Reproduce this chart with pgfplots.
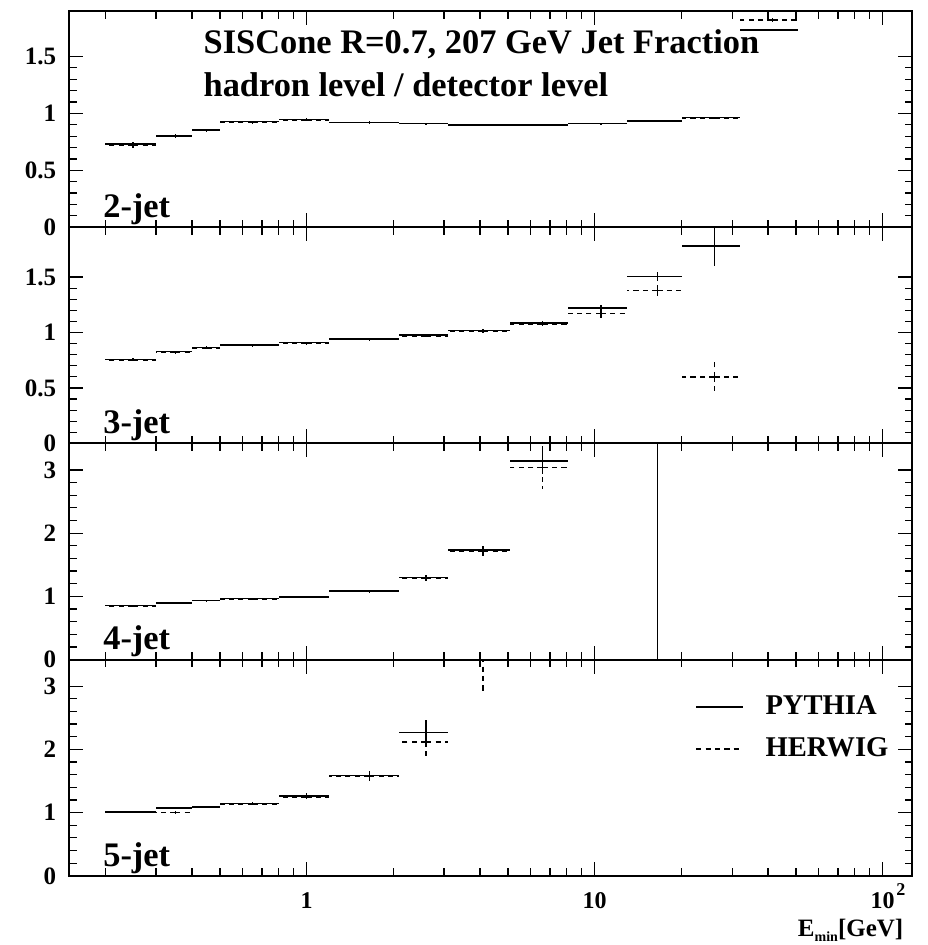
\documentclass[border=0pt]{standalone}
\usepackage{pgfplots}
\pgfplotsset{compat=1.18}
\usepackage{pgfplotstable}
\usepackage{fontspec}
\setmainfont{Liberation Serif}

\pgfplotstableread{
lo hi y ey
0.2 0.3 0.730 0.015
0.3 0.4 0.803 0.012
0.4 0.5 0.855 0.012
0.5 0.8 0.927 0.010
0.8 1.2 0.948 0.010
1.2 2.1 0.921 0.008
2.1 3.1 0.912 0.008
3.1 5.1 0.898 0.006
5.1 8.1 0.898 0.006
8.1 12.9 0.912 0.006
12.9 20.1 0.933 0.006
20.1 32 0.962 0.008
32 51 1.734 0.012
}\twoP
\pgfplotstableread{
lo hi y ey
0.2 0.3 0.718 0.020
0.3 0.4 0.800 0.015
0.4 0.5 0.850 0.015
0.5 0.8 0.922 0.012
0.8 1.2 0.942 0.012
1.2 2.1 0.918 0.010
2.1 3.1 0.910 0.008
3.1 5.1 0.896 0.008
5.1 8.1 0.896 0.008
8.1 12.9 0.910 0.008
12.9 20.1 0.930 0.008
20.1 32 0.960 0.010
32 51 1.820 0.020
}\twoH
\pgfplotstableread{
lo hi y ey
0.2 0.3 0.758 0.010
0.3 0.4 0.827 0.010
0.4 0.5 0.867 0.010
0.5 0.8 0.888 0.010
0.8 1.2 0.909 0.010
1.2 2.1 0.943 0.010
2.1 3.1 0.976 0.010
3.1 5.1 1.018 0.012
5.1 8.1 1.085 0.015
8.1 12.9 1.222 0.025
12.9 20.1 1.506 0.040
20.1 32 1.780 0.180
}\threeP
\pgfplotstableread{
lo hi y ey
0.2 0.3 0.752 0.012
0.3 0.4 0.822 0.012
0.4 0.5 0.860 0.012
0.5 0.8 0.882 0.012
0.8 1.2 0.903 0.012
1.2 2.1 0.936 0.012
2.1 3.1 0.970 0.012
3.1 5.1 1.010 0.015
5.1 8.1 1.075 0.020
8.1 12.9 1.170 0.035
12.9 20.1 1.379 0.060
20.1 32 0.600 0.140
}\threeH
\pgfplotstableread{
lo hi y ey
0.2 0.3 0.853 0.010
0.3 0.4 0.895 0.010
0.4 0.5 0.937 0.012
0.5 0.8 0.968 0.012
0.8 1.2 0.989 0.015
1.2 2.1 1.087 0.020
2.1 3.1 1.300 0.040
3.1 5.1 1.730 0.060
5.1 8.1 3.140 0.200
12.9 20.1 0 5
}\fourP
\pgfplotstableread{
lo hi y ey
0.2 0.3 0.848 0.012
0.3 0.4 0.890 0.012
0.4 0.5 0.932 0.012
0.5 0.8 0.962 0.012
0.8 1.2 0.985 0.015
1.2 2.1 1.080 0.020
2.1 3.1 1.290 0.050
3.1 5.1 1.710 0.070
5.1 8.1 3.040 0.340
}\fourH
\pgfplotstableread{
lo hi y ey
0.2 0.3 1.011 0.012
0.3 0.4 1.070 0.015
0.4 0.5 1.090 0.020
0.5 0.8 1.143 0.020
0.8 1.2 1.264 0.040
1.2 2.1 1.590 0.070
2.1 3.1 2.265 0.200
}\fiveP
\pgfplotstableread{
lo hi y ey
0.2 0.3 1.003 0.015
0.3 0.4 1.005 0.020
0.4 0.5 1.085 0.020
0.5 0.8 1.135 0.020
0.8 1.2 1.250 0.040
1.2 2.1 1.580 0.100
2.1 3.1 2.120 0.260
3.1 5.1 4.500 1.630
}\fiveH

\newcommand{\bigfont}{\bfseries\fontsize{17.2}{20}\selectfont}

\pgfplotsset{
  jetax/.style={
    scale only axis, width=421.5pt, height=108.1pt, anchor=north west,
    xmin=0.15, xmax=126.7,
    xtick={1,10,100},
    minor xtick={0.2,0.3,0.4,0.5,0.6,0.7,0.8,0.9,2,3,4,5,6,7,8,9,20,30,40,50,60,70,80,90},
    xticklabels={},
    minor y tick num=4,
    major tick length=7pt, minor tick length=3.8pt,
    tick style={black, line width=0.6pt},
    axis line style={line width=0.9pt},
    /pgf/number format/assume math mode=true,
    yticklabel style={font=\bfseries\fontsize{12.5}{14}\selectfont, xshift=-3pt},
    xticklabel style={font=\bfseries\fontsize{12}{14}\selectfont, yshift=-4.8pt},
  },
  dat/.style={black, line width=0.75pt, only marks, mark=*, mark size=0pt,
    mark options={draw opacity=0, fill opacity=0}, forget plot,
    error bars/x dir=both, error bars/x explicit,
    error bars/y dir=both, error bars/y explicit,
    error bars/error mark=none},
  pyth/.style={dat, error bars/error bar style={solid, line width=0.75pt}},
  herw/.style={dat, error bars/error bar style={dash pattern=on 2.6pt off 2.1pt, line width=0.75pt}},
}
\pgfkeys{/pgfplots/table/tbl/.style={x expr={(\thisrow{lo}+\thisrow{hi})/2}, y=y,
    x error expr={(\thisrow{hi}-\thisrow{lo})/2}, y error=ey}}

\begin{document}
\begin{tikzpicture}
\useasboundingbox (0,0) rectangle (463.5pt,-472.5pt);
% 2-jet
\begin{semilogxaxis}[jetax, at={(34.65pt,-5.5pt)}, ymin=0, ymax=1.9, ytick={0,0.5,1,1.5}]
\addplot[pyth] table[tbl] {\twoP};
\addplot[herw] table[tbl] {\twoH};
\node[anchor=base west, font=\bigfont] at (rel axis cs:0.151,0.805) {SISCone R=0.7, 207 GeV Jet Fraction};
\node[anchor=base west, font=\bigfont] at (rel axis cs:0.151,0.605) {hadron level / detector level};
\node[anchor=base west, font=\bigfont] at (rel axis cs:0.032,0.045) {2-jet};
\end{semilogxaxis}
% 3-jet
\begin{semilogxaxis}[jetax, at={(34.65pt,-113.6pt)}, ymin=0, ymax=1.95, ytick={0,0.5,1,1.5}]
\addplot[pyth] table[tbl] {\threeP};
\addplot[herw] table[tbl] {\threeH};
\node[anchor=base west, font=\bigfont] at (rel axis cs:0.032,0.045) {3-jet};
\end{semilogxaxis}
% 4-jet
\begin{semilogxaxis}[jetax, at={(34.65pt,-221.7pt)}, ymin=0, ymax=3.42, ytick={0,1,2,3}]
\addplot[pyth] table[tbl] {\fourP};
\addplot[herw] table[tbl] {\fourH};
\node[anchor=base west, font=\bigfont] at (rel axis cs:0.032,0.045) {4-jet};
\end{semilogxaxis}
% 5-jet
\begin{semilogxaxis}[jetax, at={(34.65pt,-329.8pt)}, ymin=0, ymax=3.42, ytick={0,1,2,3},
  xticklabels={1,10,10\rlap{\kern0.8pt\smash{\raisebox{6.5pt}{\fontsize{9}{9}\selectfont 2}}}},
  xlabel={E\raisebox{-2.5pt}{\fontsize{7}{7}\selectfont min}[GeV]},
  xlabel style={at={(rel axis cs:1,0)}, anchor=base east, yshift=-30.2pt, xshift=-1pt,
    font=\bfseries\fontsize{12.5}{14}\selectfont},
  legend image code/.code={\draw[#1] (0pt,0pt) -- (23.3pt,0pt);},
  legend style={draw=none, fill=none, at={(rel axis cs:0.735,0.87)}, anchor=north west,
    font=\bfseries\fontsize{14.3}{16}\selectfont, row sep=6pt,
    /tikz/every odd column/.append style={column sep=9pt}},
  legend cell align=left]
\addplot[pyth] table[tbl] {\fiveP};
\addplot[herw] table[tbl] {\fiveH};
\addlegendimage{black, line width=0.8pt, solid}
\addlegendentry{PYTHIA}
\addlegendimage{black, line width=0.8pt, dash pattern=on 2.6pt off 2.1pt}
\addlegendentry{HERWIG}
\node[anchor=base west, font=\bigfont] at (rel axis cs:0.032,0.045) {5-jet};
\end{semilogxaxis}
\end{tikzpicture}
\end{document}
